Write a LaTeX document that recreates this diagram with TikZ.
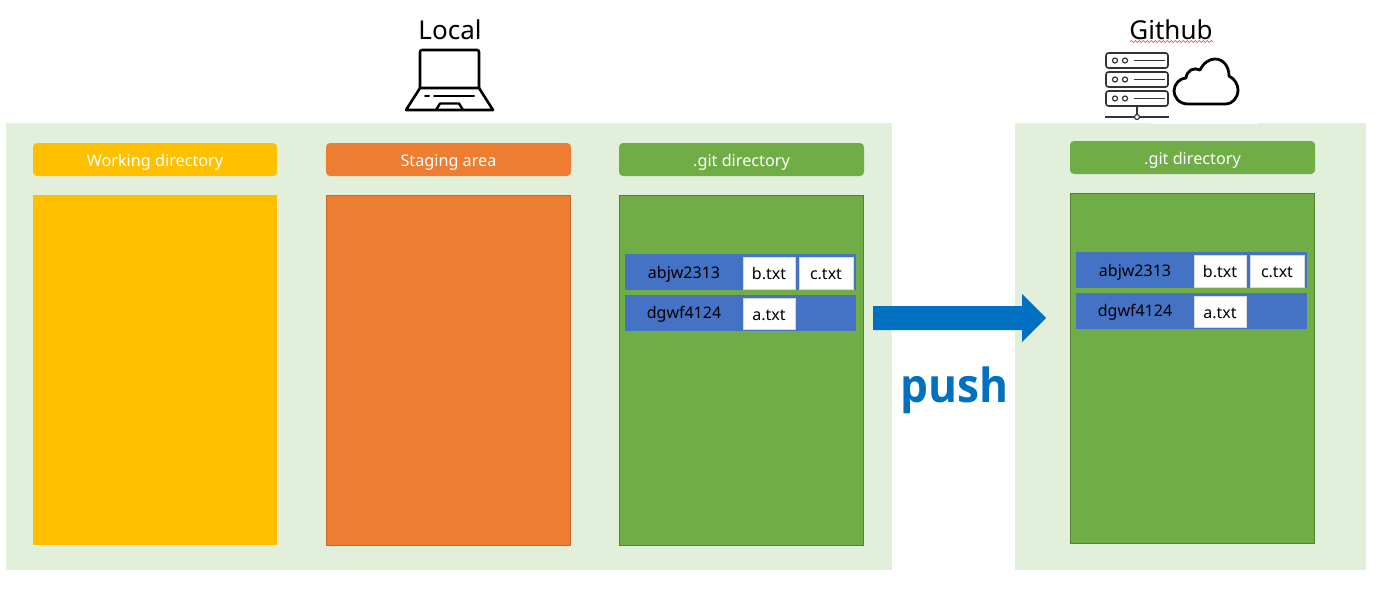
\documentclass[tikz,border=0pt]{standalone}
\usepackage{fontspec}
\setmainfont{Noto Sans}
\newfontfamily\pushfont[FakeStretch=0.94]{Open Sans}
\usetikzlibrary{decorations.pathmorphing}
\definecolor{panel}{HTML}{E2EFDA}
\definecolor{gold}{HTML}{FFC000}
\definecolor{orng}{HTML}{ED7D31}
\definecolor{grn}{HTML}{70AD47}
\definecolor{grnedge}{HTML}{548235}
\definecolor{orngedge}{HTML}{AE5A21}
\definecolor{blu}{HTML}{4472C4}
\definecolor{pushblue}{HTML}{0070C0}
\tikzset{
  boxbase/.style={inner sep=0pt,outer sep=0pt},
  lowtext/.style={text height=15.5pt,text depth=2.5pt},
  panelbox/.style={boxbase,fill=panel},
  header/.style={boxbase,lowtext,rounded corners=4pt,text=white,font=\fontsize{16.2}{16}\selectfont},
  rowbox/.style={boxbase,fill=blu},
  filebox/.style={boxbase,lowtext,fill=white,draw=black!15,line width=1pt,text=black,font=\fontsize{16}{16}\selectfont},
  rowlabel/.style={boxbase,lowtext,text=black,font=\fontsize{16}{16}\selectfont},
  icon/.style={draw=black,line width=2.6pt,line join=round,line cap=round},
  thinicon/.style={draw=black!80,line width=1.6pt,line join=round},
  title/.style={boxbase,text=black,font=\fontsize{26}{26}\selectfont},
}
\newcommand{\pxbox}[7]{%
  \node[#2,minimum width={(#5-#3)*1pt},minimum height={(#6-#4)*1pt}] (#1) at ({(#3+#5)/2},{(#4+#6)/2}) {#7};}
\newcommand{\gitcolumn}[3]{% prefix, dx, dy
  \begin{scope}[shift={(#2,#3)}]
  \pxbox{#1body}{boxbase,fill=grn,draw=grnedge,line width=0.9pt}{619}{195}{863}{545}{}
  \pxbox{#1rowa}{rowbox}{625}{254}{856}{290}{}
  \pxbox{#1rowb}{rowbox}{625}{295}{856}{331}{}
  \node[rowlabel] (#1ida) at (684,271.5) {abjw2313};
  \node[rowlabel] (#1idb) at (684,311.5) {dgwf4124};
  \pxbox{#1fb}{filebox}{743}{257}{795}{289}{b.txt}
  \pxbox{#1fc}{filebox}{799}{257}{853}{289}{c.txt}
  \pxbox{#1fa}{filebox}{743}{298}{795}{329}{a.txt}
  \end{scope}}
\begin{document}
\begin{tikzpicture}[x=1pt,y=-1pt]
\useasboundingbox (0,0) rectangle (1375,589);
\pxbox{panelL}{panelbox}{6}{123}{892}{570}{}
\pxbox{panelR}{panelbox}{1015}{123}{1366}{570}{}
\fill[white] (1153,122) rectangle (1258,124.2);
% headers
\pxbox{hwork}{header,fill=gold}{33}{143}{277}{176}{Working directory}
\pxbox{hstage}{header,fill=orng}{326}{143}{571}{176}{Staging area}
\pxbox{hgit}{header,fill=grn}{619}{143}{864}{176}{.git directory}
\pxbox{hgitr}{header,fill=grn}{1070}{141}{1315}{174}{.git directory}
% bodies
\pxbox{bwork}{boxbase,fill=gold}{33}{195}{277}{545}{}
\pxbox{bstage}{boxbase,fill=orng,draw=orngedge!60!orng,line width=0.9pt}{326}{195}{570}{545}{}
\gitcolumn{l}{0}{0}
\gitcolumn{r}{451}{-2}
% arrow
\coordinate (pushstart) at (873,318);
\coordinate (pushtip) at (1046,318);
\fill[pushblue] (873,306) -- (1022,306) -- (1022,294) -- (pushtip) -- (1022,342) -- (1022,330) -- (873,330) -- cycle;
\node[boxbase,anchor=base,text=pushblue,font=\pushfont\fontsize{47}{47}\selectfont\bfseries] (push) at (954.5,402) {push};
% titles
\node[title] (local) at (450,30) {Local};
\node[title] (github) at (1171,30) {Github};
\draw[red!80,line width=0.6pt,decorate,decoration={snake,amplitude=0.9pt,segment length=4pt}] (1130,41.5) -- (1213,41.5);
% laptop
\draw[icon,rounded corners=2pt] (420,88) -- (420,50) -- (479,50) -- (479,88);
\draw[icon] (420,88) -- (479,88) -- (493,110) -- (406,110) -- cycle;
\draw[icon,line width=2pt] (425,95.5) -- (429,95.5) (434,95.5) -- (474,95.5);
\draw[icon,line width=2.4pt] (436,110) -- (440,103.5) -- (459,103.5) -- (463,110);
% servers
\foreach \y in {53,72,91}{
  \draw[thinicon,rounded corners=2.5pt] (1106,\y) rectangle (1168,\y+15);
  \draw[thinicon,line width=1.2pt] (1115,\y+7.5) circle (2.5) (1125,\y+7.5) circle (2.5);
  \draw[thinicon] (1134,\y+7.5) -- (1165,\y+7.5);
}
\draw[thinicon] (1137,106) -- (1137,114.5);
\draw[thinicon] (1105,117) -- (1134.5,117) (1139.5,117) -- (1169,117);
\draw[thinicon,line width=1.2pt] (1137,117) circle (2.5);
% cloud
\draw[draw=black,line width=2.8pt,line join=round]
  (1188,104) .. controls (1178,104) and (1174,96) .. (1174,91)
  .. controls (1174,84) and (1180,78) .. (1186,78)
  .. controls (1187,70) and (1194,67) .. (1200,70)
  .. controls (1204,62) and (1210,59) .. (1215,59)
  .. controls (1223,59) and (1229,66) .. (1229,76)
  .. controls (1235,79) and (1238,85) .. (1238,90)
  .. controls (1238,98) and (1232,104) .. (1226,104) -- cycle;
\end{tikzpicture}
\end{document}
